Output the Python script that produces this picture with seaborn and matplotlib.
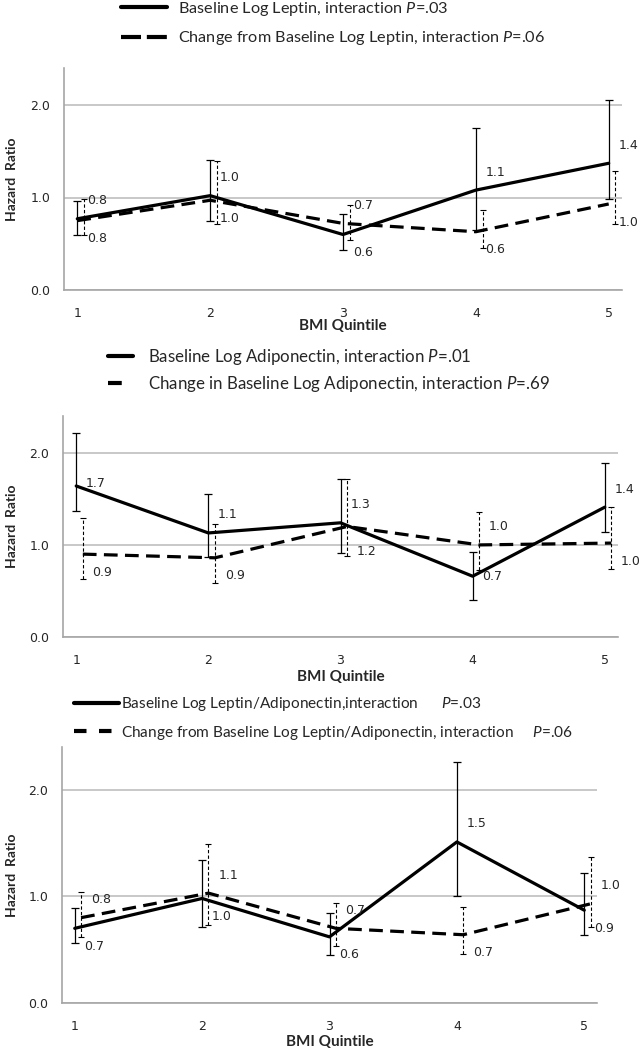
import matplotlib
matplotlib.use("Agg")
import matplotlib.pyplot as plt
import seaborn as sns
import numpy as np
from matplotlib.lines import Line2D

# BMI quintiles on the x axis
quintiles = [1, 2, 3, 4, 5]

# Panel 1: leptin
leptin_base_hr = [0.77, 1.02, 0.60, 1.08, 1.37]
leptin_base_lo = [0.60, 0.75, 0.43, 0.65, 0.98]
leptin_base_hi = [0.96, 1.41, 0.82, 1.75, 2.05]
leptin_base_lab = ["0.8", "1.0", "0.6", "1.1", "1.4"]
leptin_chg_hr = [0.75, 0.97, 0.72, 0.63, 0.93]
leptin_chg_lo = [0.60, 0.71, 0.54, 0.45, 0.71]
leptin_chg_hi = [0.98, 1.40, 0.92, 0.86, 1.29]
leptin_chg_lab = ["0.8", "1.0", "0.7", "0.6", "1.0"]

# Panel 2: adiponectin
adipo_base_hr = [1.64, 1.13, 1.24, 0.66, 1.41]
adipo_base_lo = [1.37, 0.87, 0.91, 0.40, 1.14]
adipo_base_hi = [2.22, 1.55, 1.72, 0.92, 1.89]
adipo_base_lab = ["1.7", "1.1", "1.3", "0.7", "1.4"]
adipo_chg_hr = [0.90, 0.86, 1.20, 1.00, 1.02]
adipo_chg_lo = [0.63, 0.59, 0.88, 0.73, 0.74]
adipo_chg_hi = [1.29, 1.23, 1.72, 1.36, 1.41]
adipo_chg_lab = ["0.9", "0.9", "1.2", "1.0", "1.0"]

# Panel 3: leptin/adiponectin ratio
ratio_base_hr = [0.70, 0.98, 0.62, 1.51, 0.87]
ratio_base_lo = [0.56, 0.71, 0.45, 1.00, 0.64]
ratio_base_hi = [0.89, 1.34, 0.84, 2.26, 1.22]
ratio_base_lab = ["0.7", "1.0", "0.6", "1.5", "0.9"]
ratio_chg_hr = [0.80, 1.03, 0.70, 0.64, 0.93]
ratio_chg_lo = [0.62, 0.73, 0.53, 0.46, 0.71]
ratio_chg_hi = [1.04, 1.49, 0.94, 0.90, 1.37]
ratio_chg_lab = ["0.8", "1.1", "0.7", "0.7", "1.0"]

leptin_legend = ["Baseline Log Leptin, interaction $\\mathit{P}$=.03",
                 "Change from Baseline Log Leptin, interaction $\\mathit{P}$=.06"]
adipo_legend = ["Baseline Log Adiponectin, interaction $\\mathit{P}$=.01",
                "Change in Baseline Log Adiponectin, interaction $\\mathit{P}$=.69"]
ratio_legend = ["Baseline Log Leptin/Adiponectin,interaction      $\\mathit{P}$=.03",
                "Change from Baseline Log Leptin/Adiponectin, interaction     $\\mathit{P}$=.06"]

sns.set_theme(style="white")
plt.rcParams["font.family"] = ["DejaVu Sans"]
plt.rcParams["mathtext.fontset"] = "custom"
plt.rcParams["mathtext.it"] = "Lato:italic"
plt.rcParams["mathtext.rm"] = "Lato"

W, H = 642, 1050
fig = plt.figure(figsize=(W / 100, H / 100), dpi=100)

DASH = (4.3, 2.3)
GRID = "#bfbfbf"


def px_rect(l, r, t, b):
    return [l / W, 1 - b / H, (r - l) / W, (b - t) / H]


def draw_panel(rect, base, chg, legend_labels, leg, line_off, xlab_px, label_dy=None):
    label_dy = label_dy or {}
    ax = fig.add_axes(rect)
    x = np.array(quintiles, dtype=float)
    bhr, blo, bhi = (np.array(v) for v in base[:3])
    chr_, clo, chi = (np.array(v) for v in chg[:3])
    blab, clab = base[3], chg[3]
    xc = x + line_off
    xe = x + 0.05

    # error bars
    ax.errorbar(x, bhr, yerr=[bhr - blo, bhi - bhr], fmt="none", ecolor="black",
                elinewidth=0.9, capsize=3, capthick=0.9, zorder=3)
    eb = ax.errorbar(xe, chr_, yerr=[chr_ - clo, chi - chr_], fmt="none", ecolor="black",
                     elinewidth=0.8, capsize=2.5, capthick=0.8, zorder=3)
    eb[2][0].set_linestyle((0, (3, 2)))

    # series lines
    sns.lineplot(x=x, y=bhr, ax=ax, color="black", lw=2.3, zorder=4)
    sns.lineplot(x=xc, y=chr_, ax=ax, color="black", lw=2.3, zorder=4)
    ax.lines[-1].set_dashes(DASH)

    # data labels: higher series above, lower below
    for i in range(len(x)):
        up_b = bhr[i] >= chr_[i]
        dy_b = label_dy.get(("b", i), 13 if up_b else -13)
        dy_c = label_dy.get(("c", i), -13 if up_b else 13)
        ax.annotate(blab[i], (x[i], bhr[i]), xytext=(7, dy_b),
                    textcoords="offset points", ha="left", va="center",
                    fontsize=9, color="#262626", zorder=5)
        ax.annotate(clab[i], (xc[i], chr_[i]), xytext=(7, dy_c),
                    textcoords="offset points", ha="left", va="center",
                    fontsize=9, color="#262626", zorder=5)

    ax.set_xlim(0.9, 5.1)
    ax.set_ylim(0, 2.4)
    ax.set_xticks(quintiles)
    ax.set_xticklabels([str(q) for q in quintiles])
    ax.set_yticks([0, 1, 2])
    ax.set_yticklabels(["0.0", "1.0", "2.0"])
    ax.tick_params(axis="x", length=0, pad=12, labelsize=9, labelcolor="#262626")
    ax.tick_params(axis="y", length=0, pad=10, labelsize=9, labelcolor="#262626")
    ax.grid(axis="y", color=GRID, lw=1.2)
    ax.set_axisbelow(True)
    for s in ["top", "right"]:
        ax.spines[s].set_visible(False)
    for s in ["left", "bottom"]:
        ax.spines[s].set_color("#a6a6a6")
        ax.spines[s].set_linewidth(1.2)

    ax.set_xlabel("BMI Quintile", fontweight="bold", family="Lato", fontsize=11,
                  color="#262626")
    hpx = rect[3] * H
    ax.xaxis.set_label_coords(0.5, -(xlab_px - 8) / hpx)
    ax.set_ylabel("Hazard  Ratio", fontweight="bold", family="Lato", fontsize=10,
                  color="#262626")
    ax.yaxis.set_label_coords(-(rect[0] * W - 18) / (rect[2] * W), 0.5)

    handles = [Line2D([], [], color="black", lw=3),
               Line2D([], [], color="black", lw=3, dashes=leg["dash"])]
    ax.legend(handles, legend_labels, loc="center left",
              bbox_to_anchor=(leg["x"] / W, 1 - leg["y"] / H),
              bbox_transform=fig.transFigure, frameon=False, borderpad=0,
              borderaxespad=0, handlelength=leg["hl"], handletextpad=leg["tp"],
              labelspacing=leg["ls"],
              prop={"family": "Lato", "size": leg["fs"]}, labelcolor="#262626")
    return ax


draw_panel(px_rect(64, 622, 68, 290),
           (leptin_base_hr, leptin_base_lo, leptin_base_hi, leptin_base_lab),
           (leptin_chg_hr, leptin_chg_lo, leptin_chg_hi, leptin_chg_lab),
           leptin_legend,
           dict(x=121, y=23.5, hl=2.83, tp=0.68, ls=0.71, fs=11.7, dash=(4.8, 1.4)),
           line_off=0.0, xlab_px=37)

draw_panel(px_rect(63, 618, 416, 637),
           (adipo_base_hr, adipo_base_lo, adipo_base_hi, adipo_base_lab),
           (adipo_chg_hr, adipo_chg_lo, adipo_chg_hi, adipo_chg_lab),
           adipo_legend,
           dict(x=108, y=370.5, hl=1.48, tp=0.89, ls=0.39, fs=12.2, dash=(3.3, 5.0)),
           line_off=0.05, xlab_px=41,
           label_dy={("b", 0): 2, ("b", 3): 0, ("c", 2): -18})

draw_panel(px_rect(62, 597, 747, 1003),
           (ratio_base_hr, ratio_base_lo, ratio_base_hi, ratio_base_lab),
           (ratio_chg_hr, ratio_chg_lo, ratio_chg_hi, ratio_chg_lab),
           ratio_legend,
           dict(x=74, y=718.5, hl=2.92, tp=0.13, ls=0.68, fs=11.1, dash=(3.0, 3.0)),
           line_off=0.05, xlab_px=40)

fig.savefig("out.png", dpi=100)
